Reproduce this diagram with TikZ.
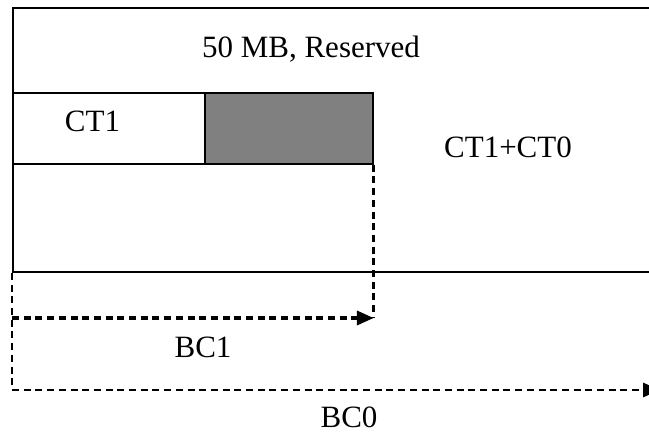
\documentclass[tikz,border=0pt]{standalone}
\usepackage{fontspec}
\setmainfont{Liberation Serif}
\usetikzlibrary{arrows.meta}
\definecolor{usedgray}{RGB}{128,128,128}
\begin{document}
\begin{tikzpicture}[x=1pt,y=-1pt,
  frame/.style={draw, line width=2pt, rectangle, inner sep=0pt, anchor=north west},
  cell/.style={draw, line width=1.8pt, rectangle, inner sep=0pt, anchor=north west, minimum height=71pt},
  lbl/.style={font=\fontsize{31}{36}\selectfont, inner sep=0pt, anchor=base},
  guide/.style={line width=2.8pt, dash pattern=on 7pt off 4.7pt},
  span/.style={guide, -{Triangle[length=17pt,width=14pt]}}
]
\useasboundingbox (0,0) rectangle (649,433);
\clip (0,0) rectangle (649,433);

% memory frame (open to the right) and the CT1 row
\node[frame, minimum width=660pt, minimum height=264pt] (mem) at (12,7) {};
\node[cell, minimum width=192pt] (ct1) at (12,92) {};
\node[cell, minimum width=168pt, fill=usedgray] (used) at (204,92) {};

% labels
\node[lbl] (reserved) at (311,58) {50 MB, Reserved};
\node[lbl] (ct1lbl) at (92.5,131.7) {CT1};
\node[lbl] (sum) at (508,158) {CT1+CT0};
\node[lbl] (bc1) at (203,357) {BC1};
\node[lbl] (bc0) at (349,427.5) {BC0};

% bandwidth spans
\coordinate (b1) at (12,318);
\coordinate (b0corner) at (12,390);
\coordinate (b0end) at (660,390);

\draw[guide] (used.south east) -- (used.south east |- b1);
\draw[guide] (mem.south west) -- (b0corner);
\draw[span, line width=3.6pt] (b1) -- (used.south east |- b1);
\draw[span, line width=2.8pt] (b0corner) -- (b0end);
\end{tikzpicture}
\end{document}
